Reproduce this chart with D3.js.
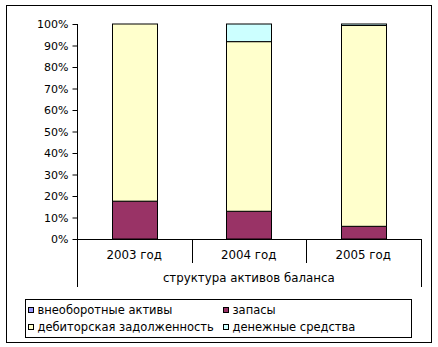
<!DOCTYPE html>
<html>
<head>
<meta charset="utf-8">
<script src="https://cdn.jsdelivr.net/npm/d3@7"></script>
<style>
  html, body { margin: 0; padding: 0; background: #fff; }
  svg { display: block; }
  text { font-family: "DejaVu Sans", Verdana, sans-serif; fill: #000; }
</style>
</head>
<body>
<svg id="chart" width="438" height="347"></svg>
<script>
// Balance-sheet asset structure, shares of total (%)
const years = ["2003 год", "2004 год", "2005 год"];
const groupLabel = "структура активов баланса";
const seriesNames = ["внеоборотные активы", "запасы", "дебиторская задолженность", "денежные средства"];
const seriesColors = ["#9999FF", "#993366", "#FFFFCC", "#CCFFFF"];
const nonCurrent = [0, 0, 0];
const inventories = [17.6, 12.9, 5.9];
const receivables = [82.4, 78.9, 93.4];
const cash = [0, 8.2, 0.7];
const yTicks = [0, 10, 20, 30, 40, 50, 60, 70, 80, 90, 100];

const series = [nonCurrent, inventories, receivables, cash];
const rows = years.map((y, i) => {
  const r = { year: y };
  seriesNames.forEach((n, k) => { r[n] = series[k][i]; });
  return r;
});

const svg = d3.select("#chart");
const plot = { left: 77, right: 420.5, top: 24, bottom: 239 };

// outer frame
svg.append("rect")
  .attr("x", 6.5).attr("y", 5.5).attr("width", 425).attr("height", 337)
  .attr("fill", "#fff").attr("stroke", "#000").attr("stroke-width", 1);

const x = d3.scaleBand().domain(years).range([plot.left, plot.right]).paddingInner(0).paddingOuter(0);
const y = d3.scaleLinear().domain([0, 100]).range([plot.bottom, plot.top]);

const stack = d3.stack().keys(seriesNames);
const layers = stack(rows);

const barW = 45;
svg.append("g").selectAll("g")
  .data(layers)
  .join("g")
  .attr("fill", (d, i) => seriesColors[i])
  .selectAll("rect")
  .data(d => d.filter(p => p[1] - p[0] > 0))
  .join("rect")
  .attr("x", d => Math.round(x(d.data.year) + x.bandwidth() / 2 - barW / 2) + 0.5)
  .attr("width", barW)
  .attr("y", d => y(d[1]))
  .attr("height", d => y(d[0]) - y(d[1]))
  .attr("stroke", "#000")
  .attr("stroke-width", 1);

// y axis
const yAxis = svg.append("g")
  .attr("transform", `translate(${plot.left + 0.5},0)`)
  .call(d3.axisLeft(y).tickValues(yTicks).tickFormat(d => d + "%").tickSize(5).tickPadding(4));
yAxis.select(".domain").attr("stroke", "#000").attr("d", `M0,${plot.top}V${plot.bottom}`);
yAxis.selectAll(".tick line").attr("stroke", "#000");
yAxis.selectAll("text").style("font-size", "11px").style("font-family", "DejaVu Sans, Verdana, sans-serif");

// x axis with category separators
const xg = svg.append("g");
xg.append("line")
  .attr("x1", plot.left).attr("x2", plot.right + 0.5)
  .attr("y1", plot.bottom + 0.5).attr("y2", plot.bottom + 0.5)
  .attr("stroke", "#000");
const seps = years.map(d => x(d)).concat([plot.right]);
xg.selectAll("line.sep")
  .data(seps)
  .join("line")
  .attr("class", "sep")
  .attr("x1", d => Math.round(d) + 0.5).attr("x2", d => Math.round(d) + 0.5)
  .attr("y1", plot.bottom)
  .attr("y2", (d, i) => (i === 0 || i === seps.length - 1) ? 287 : 263)
  .attr("stroke", "#000");
xg.selectAll("text.cat")
  .data(years)
  .join("text")
  .attr("class", "cat")
  .attr("x", d => x(d) + x.bandwidth() / 2)
  .attr("y", 259)
  .attr("text-anchor", "middle")
  .style("font-size", "11.8px")
  .text(d => d);
xg.append("text")
  .attr("x", (plot.left + plot.right) / 2)
  .attr("y", 282)
  .attr("text-anchor", "middle")
  .style("font-size", "11.8px")
  .text(groupLabel);

// legend
const lg = svg.append("g");
lg.append("rect")
  .attr("x", 25.5).attr("y", 299.5).attr("width", 386).attr("height", 38)
  .attr("fill", "#fff").attr("stroke", "#000");
const legendPos = [[28, 310], [223, 310], [28, 327], [223, 327]];
const items = lg.selectAll("g.item")
  .data(seriesNames)
  .join("g")
  .attr("class", "item")
  .attr("transform", (d, i) => `translate(${legendPos[i][0]},${legendPos[i][1]})`);
items.append("rect")
  .attr("x", 0.5).attr("y", -2.5).attr("width", 5).attr("height", 5)
  .attr("fill", (d, i) => seriesColors[i])
  .attr("stroke", "#000");
items.append("text")
  .attr("x", 9.5)
  .attr("y", 4)
  .style("font-size", "11.5px")
  .text(d => d);
</script>
</body>
</html>
